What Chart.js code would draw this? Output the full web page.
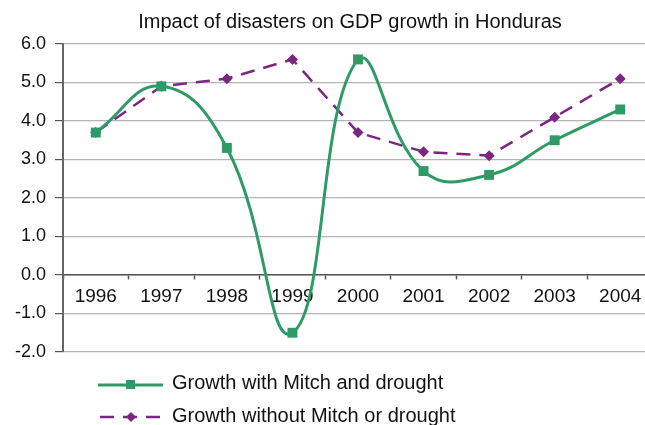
<!DOCTYPE html>
<html>
<head>
<meta charset="utf-8">
<script src="https://cdn.jsdelivr.net/npm/chart.js@4/dist/chart.umd.min.js"></script>
<style>
  body { margin: 0; background: #fff; overflow: hidden; }
</style>
</head>
<body>
<canvas id="gdp" width="660" height="425"></canvas>
<script>
const years = ['1996', '1997', '1998', '1999', '2000', '2001', '2002', '2003', '2004'];
const withMitch = [3.7, 4.9, 3.3, -1.5, 5.6, 2.7, 2.6, 3.5, 4.3];
const withoutMitch = [3.7, 4.9, 5.1, 5.6, 3.7, 3.2, 3.1, 4.1, 5.1];
const chartTitle = 'Impact of disasters on GDP growth in Honduras';
const labelWith = 'Growth with Mitch and drought';
const labelWithout = 'Growth without Mitch or drought';

const green = '#2e9b66';
const purple = '#7a2682';
const FONT = 'Liberation Sans, Arial, sans-serif';

// title and legend drawn by hand, the legend has line + marker samples
const decorations = {
    id: 'decorations',
    afterDraw(chart) {
        const ctx = chart.ctx;
        ctx.save();
        ctx.fillStyle = '#111';
        ctx.font = '20px ' + FONT;
        ctx.textAlign = 'center';
        ctx.textBaseline = 'middle';
        ctx.fillText(chartTitle, 350, 22);

        // row 1
        ctx.strokeStyle = green;
        ctx.lineWidth = 3;
        ctx.beginPath();
        ctx.moveTo(98, 385);
        ctx.lineTo(163, 385);
        ctx.stroke();
        ctx.fillStyle = green;
        ctx.fillRect(126, 380, 9, 9);

        // row 2
        ctx.strokeStyle = purple;
        ctx.lineWidth = 2.5;
        ctx.setLineDash([14, 9]);
        ctx.beginPath();
        ctx.moveTo(100, 417);
        ctx.lineTo(163, 417);
        ctx.stroke();
        ctx.setLineDash([]);
        ctx.fillStyle = purple;
        ctx.beginPath();
        ctx.moveTo(131, 412);
        ctx.lineTo(136, 417);
        ctx.lineTo(131, 422);
        ctx.lineTo(126, 417);
        ctx.closePath();
        ctx.fill();

        ctx.fillStyle = '#111';
        ctx.textAlign = 'left';
        ctx.fillText(labelWith, 172, 383);
        ctx.fillText(labelWithout, 172, 416);
        ctx.restore();
    }
};

new Chart(document.getElementById('gdp'), {
    type: 'line',
    data: {
        labels: years,
        datasets: [
            {
                label: labelWithout,
                data: withoutMitch,
                borderColor: purple,
                backgroundColor: purple,
                borderWidth: 2.5,
                borderDash: [14, 9],
                tension: 0,
                pointStyle: 'rectRot',
                pointRadius: 5.5,
                pointBorderWidth: 0,
                order: 2
            },
            {
                label: labelWith,
                data: withMitch,
                borderColor: green,
                backgroundColor: green,
                borderWidth: 3,
                tension: 0.45,
                pointStyle: 'rect',
                pointRadius: 7,
                pointBorderWidth: 0,
                order: 1
            }
        ]
    },
    options: {
        responsive: false,
        animation: false,
        layout: { padding: { top: 44, bottom: 73, left: 0, right: 6 } },
        plugins: {
            legend: { display: false },
            title: { display: false },
            tooltip: { enabled: false }
        },
        scales: {
            x: {
                position: { y: 0 },
                offset: true,
                grid: {
                    display: true,
                    drawOnChartArea: false,
                    offset: true,
                    tickLength: 4,
                    tickColor: '#555',
                    tickWidth: 1.5
                },
                border: { display: true, color: '#555', width: 1.5 },
                ticks: {
                    color: '#111',
                    font: { family: FONT, size: 19 },
                    padding: 6,
                    maxRotation: 0
                }
            },
            y: {
                min: -2,
                max: 6,
                afterFit(scale) { scale.width = 63; },
                grid: {
                    color: '#b4b4b4',
                    lineWidth: 1.2,
                    tickLength: 8,
                    tickColor: '#555'
                },
                border: { display: true, color: '#666', width: 2 },
                ticks: {
                    stepSize: 1,
                    color: '#111',
                    font: { family: FONT, size: 18 },
                    padding: 9,
                    callback: v => v.toFixed(1)
                }
            }
        }
    },
    plugins: [decorations]
});
</script>
</body>
</html>
